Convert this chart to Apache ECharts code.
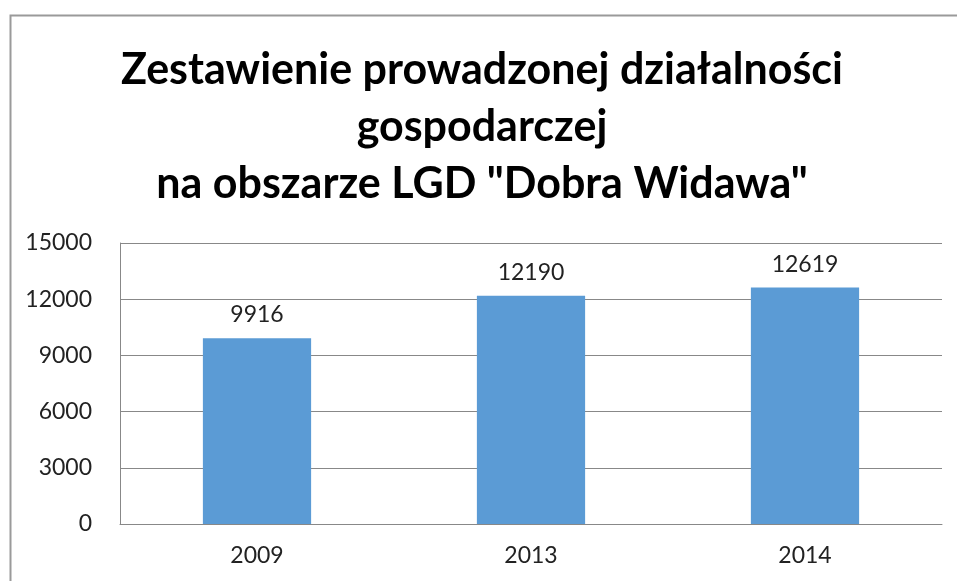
<!DOCTYPE html>
<html>
<head>
<meta charset="utf-8">
<script src="https://cdn.jsdelivr.net/npm/echarts@6/dist/echarts.min.js"></script>
<style>
  html, body { margin: 0; padding: 0; background: #fff; }
  #chart-container { width: 957px; height: 581px; }
</style>
</head>
<body>
<div id="chart-container"></div>
<script>
var dom = document.getElementById("chart-container");
var myChart = echarts.init(dom, null, { renderer: "canvas" });

const years = ["2009", "2013", "2014"];
const values = [9916, 12190, 12619];
const titleText = 'Zestawienie prowadzonej działalności\ngospodarczej\nna obszarze LGD "Dobra Widawa"';

var option = {
  backgroundColor: "#fff",
  textStyle: { fontFamily: "Lato" },
  title: {
    text: titleText,
    left: 477,
    textAlign: "center",
    top: 37,
    textStyle: {
      fontFamily: "Lato",
      fontSize: 43,
      fontWeight: "bold",
      color: "#000",
      lineHeight: 57
    }
  },
  graphic: [
    {
      type: "rect",
      shape: { x: 10.5, y: 15.5, width: 1000, height: 700 },
      style: { fill: "none", stroke: "#9a9a9a", lineWidth: 2 },
      silent: true
    }
  ],
  grid: { left: 120, right: 15, top: 243, bottom: 57 },
  xAxis: {
    type: "category",
    data: years,
    axisLine: { lineStyle: { color: "#888", width: 1 } },
    axisTick: { show: false },
    axisLabel: { fontSize: 23, color: "#222", margin: 20 }
  },
  yAxis: {
    type: "value",
    min: 0,
    max: 15000,
    interval: 3000,
    axisLine: { show: true, lineStyle: { color: "#888" } },
    axisTick: { show: false },
    splitLine: { lineStyle: { color: "#888", width: 1 } },
    axisLabel: {
      fontSize: 23,
      color: "#222",
      margin: 28,
      formatter: function (v) { return String(v); }
    }
  },
  series: [
    {
      type: "bar",
      data: values,
      barWidth: "39.5%",
      itemStyle: { color: "#5b9bd5" },
      label: {
        show: true,
        position: "top",
        distance: 12,
        fontSize: 23,
        color: "#222"
      }
    }
  ]
};

myChart.setOption(option);
window.addEventListener("resize", myChart.resize);
</script>
</body>
</html>
